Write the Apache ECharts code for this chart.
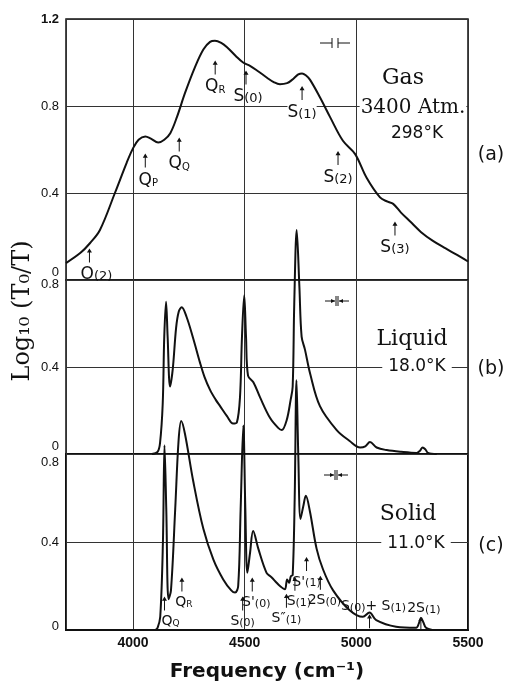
<!DOCTYPE html>
<html>
<head>
<meta charset="utf-8">
<script src="https://cdn.jsdelivr.net/npm/echarts@6/dist/echarts.min.js"></script>
<style>
html, body { margin: 0; padding: 0; background: #fff; }
#chart { width: 505px; height: 684px; }
</style>
</head>
<body>
<div id="chart"></div>
<script>
// gas, 3400 atm, 298 K  (panel a)
const gasFreq = [3700, 3765, 3807, 3852, 3919, 3972, 4000, 4025, 4055, 4080, 4113, 4140, 4167, 4197, 4233, 4278, 4315, 4345, 4367, 4395, 4421, 4460, 4493, 4524, 4560, 4600, 4630, 4658, 4690, 4712, 4740, 4757, 4775, 4793, 4837, 4882, 4940, 4994, 5046, 5106, 5140, 5165, 5200, 5240, 5290, 5343, 5400, 5451, 5500];
const gasLog = [0.078, 0.125, 0.169, 0.23, 0.40, 0.54, 0.605, 0.645, 0.66, 0.65, 0.632, 0.645, 0.675, 0.75, 0.86, 0.98, 1.06, 1.095, 1.10, 1.09, 1.07, 1.03, 1.00, 0.985, 0.96, 0.93, 0.91, 0.90, 0.905, 0.92, 0.945, 0.95, 0.94, 0.92, 0.84, 0.75, 0.64, 0.58, 0.47, 0.38, 0.36, 0.35, 0.31, 0.27, 0.22, 0.18, 0.145, 0.115, 0.085];

// liquid, 18.0 K  (panel b)
const liquidFreq = [4085, 4110, 4121, 4133, 4140, 4148, 4155, 4166, 4178, 4193, 4205, 4218, 4240, 4270, 4300, 4320, 4345, 4370, 4390, 4420, 4448, 4465, 4479, 4488, 4498, 4506, 4515, 4539, 4569, 4614, 4650, 4666, 4688, 4706, 4715, 4722, 4733, 4745, 4755, 4770, 4793, 4837, 4912, 4970, 5017, 5040, 5061, 5091, 5136, 5200, 5270, 5285, 5297, 5310, 5321, 5360];
const liquidLog = [0, 0.01, 0.05, 0.23, 0.54, 0.70, 0.54, 0.31, 0.39, 0.58, 0.655, 0.675, 0.63, 0.53, 0.42, 0.355, 0.295, 0.25, 0.22, 0.175, 0.14, 0.145, 0.26, 0.54, 0.73, 0.54, 0.36, 0.33, 0.26, 0.165, 0.12, 0.11, 0.155, 0.25, 0.31, 0.69, 1.03, 0.77, 0.54, 0.48, 0.37, 0.22, 0.11, 0.06, 0.03, 0.035, 0.055, 0.03, 0.018, 0.01, 0.005, 0.015, 0.03, 0.02, 0.005, 0];

// solid, 11.0 K  (panel c)
const solidFreq = [4100, 4110, 4122, 4134, 4141, 4149, 4159, 4170, 4189, 4204, 4216, 4233, 4270, 4315, 4360, 4404, 4440, 4457, 4471, 4482, 4494, 4503, 4512, 4524, 4538, 4561, 4598, 4620, 4643, 4658, 4680, 4690, 4699, 4707, 4715, 4724, 4732, 4740, 4750, 4762, 4774, 4792, 4822, 4851, 4896, 4970, 5029, 5059, 5089, 5178, 5268, 5280, 5290, 5300, 5312, 5340];
const solidLog = [0, 0.01, 0.06, 0.40, 0.84, 0.55, 0.14, 0.18, 0.55, 0.86, 0.95, 0.89, 0.675, 0.46, 0.32, 0.23, 0.18, 0.17, 0.20, 0.55, 0.93, 0.55, 0.26, 0.35, 0.45, 0.37, 0.26, 0.24, 0.215, 0.20, 0.185, 0.23, 0.215, 0.245, 0.25, 0.6, 1.135, 0.8, 0.505, 0.56, 0.61, 0.54, 0.37, 0.275, 0.18, 0.09, 0.06, 0.08, 0.045, 0.015, 0.01, 0.03, 0.055, 0.035, 0.01, 0];

// line assignments (arrow positions)
const gasNoteText = ['O(2)', 'Q_P', 'Q_Q', 'Q_R', 'S(0)', 'S(1)', 'S(2)', 'S(3)'];
const gasNoteFreq = [3805, 4055, 4207, 4368, 4506, 4757, 4918, 5173];
const gasNoteLog = [0.113, 0.549, 0.623, 0.977, 0.931, 0.86, 0.561, 0.237];

const solidNoteText = ['Q_Q', 'Q_R', 'S(0)', 'S\'(0)', 'S\u2033(1)', 'S(1)', 'S\'(1)', '2S(0)', 'S(0)+ S(1)', '2S(1)'];
const solidNoteFreq = [4141, 4219, 4491, 4534, 4687, 4725, 4777, 4839, 5059, 5289];
const solidNoteLog = [0.12, 0.207, 0.12, 0.207, 0.133, 0.21, 0.30, 0.215, 0.04, 0.028];

const panelTags = ['(a)', '(b)', '(c)'];

const INK = '#111';
const ARROW = 'path://M4 0 L8 6 L4.8 6 L4.8 20 L3.2 20 L3.2 6 L0 6 Z';

function pairs(xs, ys) {
    return xs.map((x, i) => [x, ys[i]]);
}

// 'Q_P' -> Q with subscript, 'S(0)' -> S with smaller bracket part
function noteRich(t) {
    if (t.indexOf('_') > 0) {
        const [m, s] = t.split('_');
        return '{m|' + m + '}{s|' + s + '}';
    }
    return t.split(/(\([^)]*\))/).filter(p => p !== '').map(p =>
        p[0] === '(' ? '{p|' + p + '}' : '{m|' + p + '}').join('');
}

function noteSeries(idx, texts, freqs, logs, fs, placement) {
    return {
        type: 'scatter',
        xAxisIndex: idx,
        yAxisIndex: idx,
        symbol: ARROW,
        symbolSize: [5, 14],
        silent: true,
        z: 5,
        itemStyle: { color: INK, opacity: 1 },
        data: freqs.map((f, i) => ({ value: [f, logs[i]], label: placement[i] || {} })),
        label: {
            show: true,
            position: 'bottom',
            distance: 1,
            color: INK,
            opacity: 1,
            textBorderWidth: 0,
            formatter: p => noteRich(texts[p.dataIndex]),
            rich: {
                m: { fontSize: fs[0], fontFamily: 'DejaVu Sans', lineHeight: fs[0] + 3, verticalAlign: 'bottom', color: INK },
                s: { fontSize: fs[1], fontFamily: 'DejaVu Sans', lineHeight: 6, verticalAlign: 'bottom', color: INK },
                p: { fontSize: fs[2], fontFamily: 'DejaVu Sans', lineHeight: fs[2] + 3, verticalAlign: 'bottom', color: INK }
            }
        }
    };
}

const curve = (idx, data) => ({
    type: 'line',
    xAxisIndex: idx,
    yAxisIndex: idx,
    data: data,
    symbol: 'none',
    smooth: 0.35,
    clip: false,
    silent: true,
    z: 4,
    lineStyle: { color: INK, width: 2 }
});

const gridTops = [19, 280, 454];
const gridHeights = [261, 174, 176];
const yMax = [1.2, 0.8, 0.8];

const tickFont = { fontFamily: 'Liberation Sans', fontSize: 13, color: INK };

function yLabel(i) {
    return v => {
        const s = String(Math.round(v * 10) / 10);
        if (v === 0 && i < 2) return '{lo|0}';
        if (v === 0) return '{lo2|0}';
        if (Math.abs(v - yMax[i]) < 1e-6 && i > 0) return i === 1 ? '{hi|' + s + '}' : '{hi2|' + s + '}';
        if (Math.abs(v - 1.2) < 1e-6) return '{b|' + s + '}';
        return '{n|' + s + '}';
    };
}

const option = {
    backgroundColor: '#fff',
    animation: false,
    grid: gridTops.map((t, i) => ({
        left: 66, top: t, width: 402, height: gridHeights[i],
        show: true, borderColor: INK, borderWidth: i === 2 ? 2 : 1.5,
        backgroundColor: 'transparent'
    })),
    xAxis: [0, 1, 2].map(i => ({
        gridIndex: i,
        type: 'value',
        min: 3700,
        max: 5500,
        splitNumber: 4,
        axisLine: { show: i === 2, lineStyle: { color: INK, width: 2 } },
        axisTick: { show: false },
        axisLabel: {
            show: i === 2, margin: 6,
            fontFamily: 'Liberation Sans', fontSize: 14, fontWeight: 'bold', color: INK,
            formatter: v => (v === 3700 ? '' : String(v))
        },
        splitLine: { show: true, lineStyle: { color: '#333', width: 1 } },
        name: i === 2 ? 'Frequency (cm\u207B\u00B9)' : '',
        nameLocation: 'middle',
        nameGap: 32,
        nameTextStyle: { fontFamily: 'DejaVu Sans', fontWeight: 'bold', fontSize: 20, color: INK }
    })),
    yAxis: [0, 1, 2].map(i => ({
        gridIndex: i,
        type: 'value',
        min: 0,
        max: yMax[i],
        interval: 0.4,
        axisLine: { show: false },
        axisTick: { show: false },
        splitLine: { show: true, lineStyle: { color: '#333', width: 1 } },
        axisLabel: {
            margin: 7,
            formatter: yLabel(i),
            rich: {
                n: tickFont,
                b: Object.assign({}, tickFont, { fontWeight: 'bold' }),
                lo: Object.assign({}, tickFont, { padding: [0, 0, 15, 0] }),
                lo2: Object.assign({}, tickFont, { padding: [0, 0, 8, 0] }),
                hi: Object.assign({}, tickFont, { padding: [9, 0, 0, 0] }),
                hi2: Object.assign({}, tickFont, { padding: [17, 0, 0, 0] })
            }
        }
    })),
    series: [
        curve(0, pairs(gasFreq, gasLog)),
        curve(1, pairs(liquidFreq, liquidLog)),
        curve(2, pairs(solidFreq, solidLog)),
        noteSeries(0, gasNoteText, gasNoteFreq, gasNoteLog, [17, 10, 13], {
            0: { offset: [7, 0] },
            1: { offset: [3, 0] },
            5: { backgroundColor: '#fff' },
            4: { offset: [2, 0] }
        }),
        noteSeries(2, solidNoteText, solidNoteFreq, solidNoteLog, [14, 9, 11], {
            0: { offset: [6, 0] },
            1: { offset: [2, 0] },
            3: { offset: [4, 0] },
            5: { offset: [4, 0] },
            7: { offset: [4, 0] },
            8: { position: 'top', offset: [4, 0] },
            9: { position: 'top', offset: [3, 0] }
        })
    ],
    graphic: []
};

function label(text, x, y, font, extra) {
    return Object.assign({
        type: 'text', x: x, y: y, z: 100, silent: true,
        style: Object.assign({
            text: text, font: font, fill: INK,
            align: 'center', verticalAlign: 'middle',
            textAlign: 'center', textVerticalAlign: 'middle'
        }, extra || {})
    });
}

const whiteBox = { backgroundColor: '#fff', padding: [1, 6] };
option.graphic.push(
    label('Gas', 403, 78, '22px "DejaVu Serif"'),
    label('3400 Atm.', 413, 108, '20px "DejaVu Serif"', { backgroundColor: '#fff', padding: [2, 1] }),
    label('298\u00B0K', 417, 134, '17px "DejaVu Sans"'),
    label(panelTags[0], 491, 155, '19px "DejaVu Sans"'),
    label('Liquid', 412, 339, '22px "DejaVu Serif"'),
    label('18.0\u00B0K', 417, 367, '17px "DejaVu Sans"', whiteBox),
    label(panelTags[1], 491, 369, '19px "DejaVu Sans"'),
    label('Solid', 408, 514, '22px "DejaVu Serif"'),
    label('11.0\u00B0K', 416, 544, '17px "DejaVu Sans"', whiteBox),
    label(panelTags[2], 491, 546, '19px "DejaVu Sans"')
);

// y axis title
option.graphic.push({
    type: 'text', x: 23, y: 311, rotation: Math.PI / 2, z: 100, silent: true,
    style: {
        text: 'Log\u2081\u2080 (T\u2080/T)', font: '24px "DejaVu Serif"', fill: INK,
        align: 'center', verticalAlign: 'middle', textAlign: 'center', textVerticalAlign: 'middle'
    }
});

// slit-width markers
function seg(x1, y1, x2, y2) {
    return { type: 'line', z: 100, silent: true, shape: { x1, y1, x2, y2 }, style: { stroke: INK, lineWidth: 1 } };
}
function head(x, y, dir) {
    return { type: 'polygon', z: 100, silent: true,
        shape: { points: [[x, y], [x - 4 * dir, y - 2], [x - 4 * dir, y + 2]] }, style: { fill: INK } };
}
function slitOpen(cx, cy) {
    return [seg(cx - 15, cy, cx - 3, cy), seg(cx - 3, cy - 5, cx - 3, cy + 5),
        seg(cx + 3, cy - 5, cx + 3, cy + 5), seg(cx + 3, cy, cx + 15, cy)];
}
function slitArrows(cx, cy) {
    return [seg(cx - 12, cy, cx - 2, cy), head(cx - 2, cy, 1),
        seg(cx - 1, cy - 5, cx - 1, cy + 5), seg(cx + 1, cy - 5, cx + 1, cy + 5),
        seg(cx + 12, cy, cx + 2, cy), head(cx + 2, cy, -1)];
}
option.graphic.push(...slitOpen(335, 43), ...slitArrows(337, 301), ...slitArrows(336, 475));

const chart = echarts.init(document.getElementById('chart'), null, { renderer: 'canvas' });
chart.setOption(option);
window.addEventListener('resize', () => chart.resize());
</script>
</body>
</html>
